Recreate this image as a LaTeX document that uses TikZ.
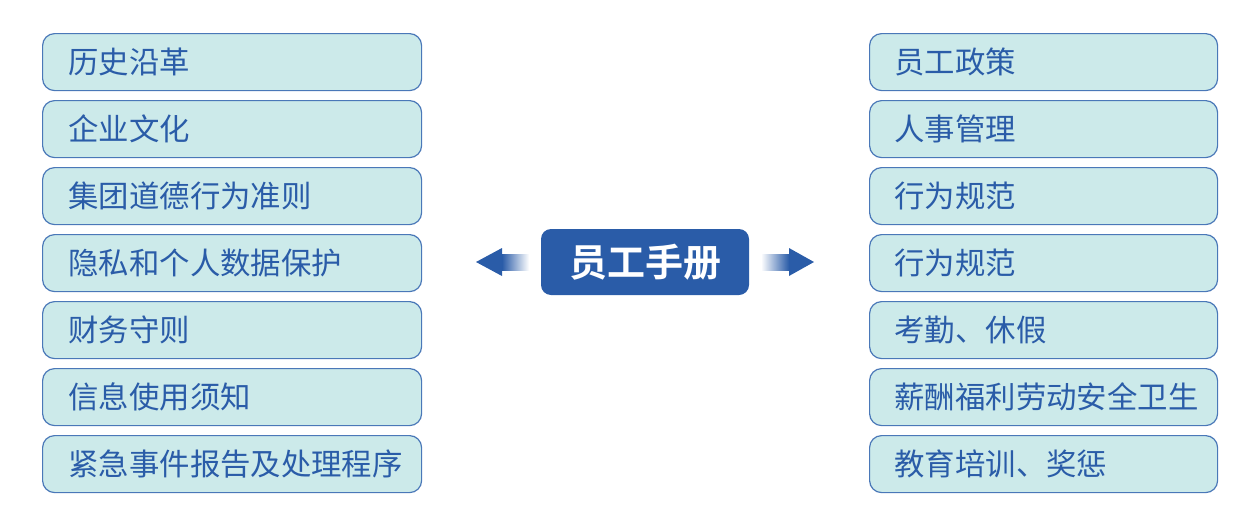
\documentclass[tikz,border=0pt]{standalone}
\usepackage{fontspec}
\setmainfont{Liberation Sans}
\newfontfamily\cjk{Noto Sans CJK SC}
\newfontfamily\cjkb{Noto Sans CJK SC Bold}
\definecolor{boxfill}{HTML}{CCEAEA}
\definecolor{boxline}{HTML}{4A78B8}
\definecolor{txtblue}{HTML}{2A5CA8}
\definecolor{mainblue}{HTML}{2A5CA8}
\tikzset{
  itembox/.style={draw=boxline, line width=0.6pt, fill=boxfill, rounded corners=6pt},
  itemtext/.style={anchor=west, inner sep=0pt, text=txtblue, font=\cjk\fontsize{15.2pt}{17pt}\selectfont},
  centerbox/.style={fill=mainblue, rounded corners=5pt, text=white, font=\cjkb\fontsize{19pt}{21pt}\selectfont, inner sep=0pt},
}
\begin{document}
\begin{tikzpicture}[x=0.5pt,y=-0.5pt]
\useasboundingbox (0,0) rectangle (1254,520);
% left column
\foreach \i/\t in {0/历史沿革,1/企业文化,2/集团道德行为准则,3/隐私和个人数据保护,4/财务守则,5/信息使用须知,6/紧急事件报告及处理程序}{
  \pgfmathsetmacro{\yt}{33+67*\i}
  \node[itembox, minimum width=379*0.5pt, minimum height=57*0.5pt, anchor=north west] (L\i) at (42,\yt) {};
  \node[itemtext] (LT\i) at ([xshift=13pt]L\i.west) {\t};
}
% right column
\foreach \i/\t in {0/员工政策,1/人事管理,2/行为规范,3/行为规范,4/考勤、休假,5/薪酬福利劳动安全卫生,6/教育培训、奖惩}{
  \pgfmathsetmacro{\yt}{33+67*\i}
  \node[itembox, minimum width=348*0.5pt, minimum height=57*0.5pt, anchor=north west] (R\i) at (869,\yt) {};
  \node[itemtext] (RT\i) at ([xshift=12.5pt]R\i.west) {\t};
}
% center
\node[centerbox, minimum width=208*0.5pt, minimum height=66*0.5pt] (C) at (645,262) {员工手册};
% left arrow
\coordinate (la) at (476,262);
\shade[left color=mainblue, right color=white] (502,254) rectangle (529,270);
\fill[mainblue] (la) -- (502,248) -- (502,276) -- cycle;
% right arrow
\coordinate (ra) at (814,262);
\shade[left color=white, right color=mainblue] (761,254) rectangle (789,270);
\fill[mainblue] (ra) -- (789,248) -- (789,276) -- cycle;
\end{tikzpicture}
\end{document}
